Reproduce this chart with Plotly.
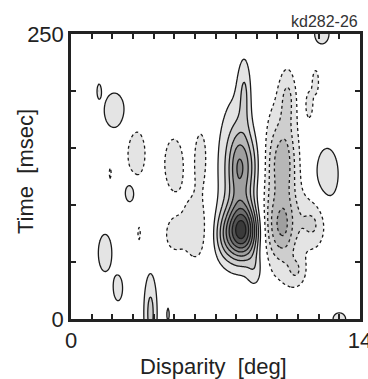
import numpy as np
import plotly.graph_objects as go

# ---- axis ticks -------------------------------------------------------
x_ticks = list(range(0, 15))
x_tick_text = ["0"] + [""] * 13 + ["14"]
y_ticks = [0, 50, 100, 150, 200, 250]
y_tick_text = ["0", "", "", "", "", "250"]

# ---- response components ----------------------------------------------
# centre disparity (deg), centre time (msec), spread to the left / right (deg),
# spread in time (msec), amplitude (positive = solid contours, negative = dashed)
blob_disp = [8.15, 8.3, 8.2, 8.4, 7.4, 8.95,
             10.2, 10.3, 10.25, 10.5, 11.75, 10.95,
             1.36, 2.1, 2.85, 1.65, 2.28, 3.85, 4.7, 12.4, 12.15, 13.0,
             3.17, 1.9, 4.98, 6.3, 6.05, 4.95, 3.3, 11.55, 11.85]
blob_time = [130, 77, 133, 200, 72, 42,
             115, 140, 80, 195, 84, 42,
             200, 183, 111, 58, 27, 5, 4, 127, 250, 0,
             145, 128, 136, 142, 80, 74, 75, 188, 208]
blob_sd_left = [0.85, 0.55, 0.4, 0.22, 0.4, 0.3,
                1.0, 0.5, 0.6, 0.28, 0.55, 0.35,
                0.08, 0.45, 0.22, 0.3, 0.2, 0.25, 0.06, 0.5, 0.32, 0.28,
                0.38, 0.05, 0.4, 0.27, 0.55, 0.35, 0.06, 0.14, 0.14]
blob_sd_right = [0.75, 0.55, 0.65, 0.22, 0.4, 0.3,
                 0.65, 0.35, 0.4, 0.28, 0.45, 0.35,
                 0.08, 0.45, 0.22, 0.3, 0.2, 0.25, 0.06, 0.5, 0.32, 0.28,
                 0.38, 0.05, 0.4, 0.27, 0.5, 0.35, 0.06, 0.14, 0.14]
blob_sd_time = [55, 17, 22, 22, 15, 12,
                55, 20, 18, 18, 17, 10,
                5, 14, 8, 15, 10, 27, 6, 21, 8, 5,
                18, 5, 20, 21, 24, 12, 6, 10, 10]
blob_amp = [2.0, 7.5, 3.5, 1.5, 1.5, 1.5,
            -2.6, -1.5, -2.2, -1.5, -2.1, -1.5,
            1.8, 1.8, 1.8, 1.8, 1.8, 2.3, 1.5, 1.8, 1.8, 1.8,
            -1.8, -1.5, -1.8, -1.8, -1.8, -1.4, -1.5, -1.6, -1.6]

# ---- grid for the library ----------------------------------------------
disp = np.linspace(0, 14, 281)
time = np.linspace(0, 250, 251)
D, T = np.meshgrid(disp, time)
Z = np.zeros_like(D)
for bx, bt, sl, sr, st, a in zip(blob_disp, blob_time, blob_sd_left, blob_sd_right,
                                 blob_sd_time, blob_amp):
    sx = np.where(D < bx, sl, sr)
    Z += a * np.exp(-0.5 * (((D - bx) / sx) ** 2 + ((T - bt) / st) ** 2))
Z = np.round(Z, 3)
band = np.clip(np.floor(np.abs(Z)), 0, 9)

greys = ["#ffffff", "#e4e4e4", "#cecece", "#b7b7b7", "#9f9f9f",
         "#878787", "#6d6d6d", "#535353", "#3a3a3a", "#222222"]
cscale = []
for i, c in enumerate(greys):
    cscale.append([i / 10, c])
    cscale.append([(i + 1) / 10, c])

fig = go.Figure()
fig.add_trace(go.Heatmap(x=disp, y=time, z=band, colorscale=cscale, zmin=0, zmax=10,
                         showscale=False, hoverinfo="skip"))
fig.add_trace(go.Contour(x=disp, y=time, z=Z, showscale=False,
                         contours=dict(start=1, end=10, size=1, coloring="none"),
                         line=dict(color="#1a1a1a", width=1.3), hoverinfo="skip"))
fig.add_trace(go.Contour(x=disp, y=time, z=Z, showscale=False,
                         contours=dict(start=-10, end=-1, size=1, coloring="none"),
                         line=dict(color="#1a1a1a", width=1.3, dash="3px,3px"), hoverinfo="skip"))

axis_font = dict(family="Liberation Sans, Arial, sans-serif", size=22, color="#222")
common = dict(ticks="inside", ticklen=5, tickwidth=1.5, tickcolor="#222", showline=True,
              linewidth=2.5, linecolor="#222", mirror="allticks", showgrid=False,
              zeroline=False, tickfont=axis_font, ticklabeloverflow="allow", automargin=False)
fig.update_xaxes(range=[0, 14], tickvals=x_ticks, ticktext=x_tick_text, **common)
fig.update_yaxes(range=[0, 250], tickvals=y_ticks, ticktext=y_tick_text, **common)

W, H = 368, 379
L, R, TOP, B = 71, 8, 34, 60
pw, ph = W - L - R, H - TOP - B


def px(x):
    return (x - L) / pw


def py(y):
    return (H - B - y) / ph


fig.update_layout(
    width=W, height=H, margin=dict(l=L, r=R, t=TOP, b=B),
    paper_bgcolor="white", plot_bgcolor="white", showlegend=False,
    annotations=[
        dict(text="Disparity  [deg]", x=px(213), y=py(366), xref="paper", yref="paper",
             showarrow=False, xanchor="center", yanchor="middle", font=axis_font),
        dict(text="Time  [msec]", x=px(25), y=py(172), xref="paper", yref="paper",
             showarrow=False, xanchor="center", yanchor="middle", textangle=-90, font=axis_font),
        dict(text="kd282-26", x=px(360), y=py(21), xref="paper", yref="paper",
             showarrow=False, xanchor="right", yanchor="middle",
             font=dict(family="Liberation Sans, Arial, sans-serif", size=16, color="#333")),
    ],
)

fig.write_html("out.html", config={"displayModeBar": False},
               post_script="document.body.style.margin='0';document.body.style.overflow='hidden';")
